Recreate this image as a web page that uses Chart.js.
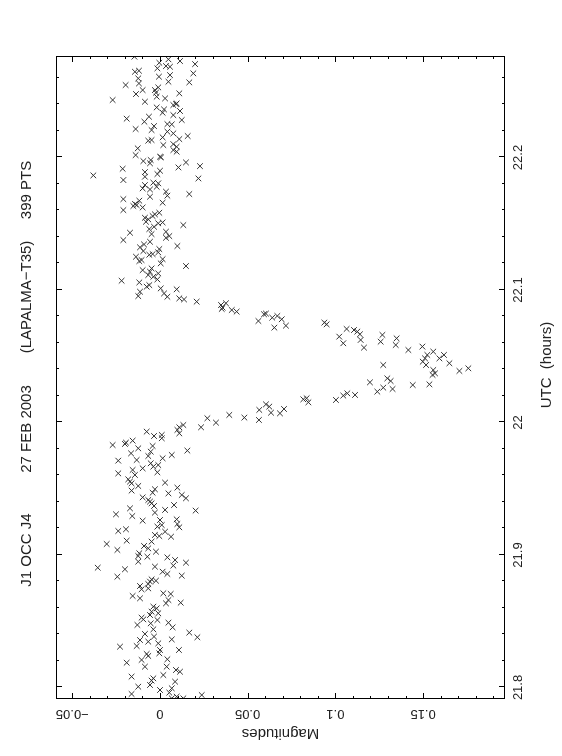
<!DOCTYPE html>
<html>
<head>
<meta charset="utf-8">
<script src="https://cdn.jsdelivr.net/npm/chart.js@4.4.1/dist/chart.umd.min.js"></script>
<style>
html,body{margin:0;padding:0;background:#fff;overflow:hidden;width:562px;height:756px}
#wrap{position:absolute;left:0;top:0;width:756px;height:562px;transform-origin:0 0;transform:translateY(756px) rotate(-90deg)}
</style>
</head>
<body>
<div id="wrap"><canvas id="lc" width="756" height="562"></canvas></div>
<script>
// light curve J1 occults J4 (UTC hours, magnitudes)
// after the event
const utcAfter = [22.2761,22.2741,22.2728,22.2715,22.2705,22.2690,22.2685,22.2673,22.2647,22.2655,
  22.2635,22.2622,22.2610,22.2597,22.2572,22.2567,22.2559,22.2547,22.2529,22.2509,
  22.2509,22.2489,22.2479,22.2484,22.2459,22.2446,22.2434,22.2421,22.2408,22.2396,
  22.2403,22.2378,22.2363,22.2351,22.2338,22.2320,22.2308,22.2293,22.2283,22.2270,
  22.2252,22.2250,22.2237,22.2215,22.2207,22.2195,22.2182,22.2162,22.2152,22.2139,
  22.2132,22.2127,22.2101,22.2094,22.2081,22.2069,22.2056,22.2044,22.2018,22.2006,
  22.2001,22.1973,22.1981,22.1963,22.1956,22.1935,22.1925,22.1915,22.1900,22.1890,
  22.1875,22.1865,22.1855,22.1842,22.1830,22.1810,22.1805,22.1792,22.1779,22.1767,
  22.1759,22.1742,22.1724,22.1712,22.1704,22.1686,22.1674,22.1659,22.1649,22.1641,
  22.1634,22.1623,22.1603,22.1583,22.1571,22.1558,22.1545,22.1533,22.1515,22.1503,
  22.1510,22.1490,22.1477,22.1460,22.1440,22.1432,22.1422,22.1407,22.1394,22.1377,
  22.1364,22.1344,22.1332,22.1322,22.1309,22.1294,22.1284,22.1271,22.1266,22.1251,
  22.1233,22.1226,22.1218,22.1201,22.1181,22.1163,22.1150,22.1138,22.1125,22.1113,
  22.1100,22.1080,22.1070,22.1057,22.1037,22.1025,22.1012,22.1005,22.0987,22.0974,
  22.0954,22.0949,22.0937,22.0929]
const magAfter = [-0.0146,0.0048,0.0114,-0.0004,0.0200,0.0034,0.0057,-0.0015,-0.0143,-0.0120,
  0.0190,0.0057,-0.0006,-0.0124,0.0048,0.0167,-0.0120,-0.0196,-0.0010,-0.0099,
  -0.0029,-0.0023,-0.0137,0.0110,-0.0019,0.0029,-0.0270,-0.0086,0.0095,0.0076,
  0.0091,-0.0019,0.0023,0.0114,0.0015,0.0076,-0.0063,-0.0190,0.0124,-0.0089,
  0.0042,0.0067,-0.0034,-0.0139,-0.0048,0.0042,0.0076,0.0158,0.0015,0.0110,
  -0.0048,-0.0067,0.0076,0.0019,0.0095,-0.0127,0.0076,0.0095,-0.0139,0.0000,
  0.0006,-0.0095,-0.0053,0.0148,-0.0057,0.0228,0.0105,-0.0213,0.0000,-0.0086,
  -0.0015,-0.0380,-0.0086,0.0219,-0.0209,-0.0038,-0.0010,-0.0086,-0.0019,-0.0099,
  -0.0057,0.0034,0.0167,0.0042,-0.0057,-0.0209,-0.0118,0.0015,-0.0143,-0.0133,
  -0.0152,-0.0099,-0.0209,-0.0004,-0.0029,-0.0042,-0.0086,-0.0067,-0.0080,-0.0010,
  0.0015,0.0133,-0.0034,-0.0061,0.0034,-0.0171,-0.0048,0.0053,0.0034,-0.0209,
  -0.0057,-0.0091,0.0099,-0.0114,-0.0004,-0.0095,-0.0010,-0.0042,-0.0061,-0.0137,
  0.0015,-0.0105,-0.0118,0.0004,0.0148,-0.0048,-0.0099,-0.0057,-0.0010,-0.0067,
  -0.0038,-0.0015,-0.0219,-0.0118,-0.0061,-0.0076,0.0004,0.0095,-0.0114,0.0023,
  -0.0124,0.0042,0.0110,0.0137]
// the dip
const utcDip = [22.0912,22.0887,22.0867,22.0900,22.0857,22.0849,22.0837,22.0766,22.0817,22.0822,
  22.0791,22.0804,22.0779,22.0716,22.0731,22.0754,22.0741,22.0648,22.0598,22.0706,
  22.0698,22.0686,22.0666,22.0623,22.0565,22.0661,22.0610,22.0635,22.0585,22.0547,
  22.0573,22.0535,22.0510,22.0484,22.0459,22.0510,22.0484,22.0447,22.0389,22.0409,
  22.0434,22.0396,22.0371,22.0359,22.0288,22.0434,22.0333,22.0313,22.0303,22.0263,
  22.0253,22.0283,22.0233,22.0208,22.0220,22.0203,22.0170,22.0183,22.0152,22.0175,
  22.0102,22.0069,22.0074,22.0120,22.0137,22.0095,22.0019,22.0037,22.0057,22.0032]
const magDip = [0.0209,0.0348,0.0357,0.0376,0.0352,0.0409,0.0437,0.0561,0.0593,0.0604,
  0.0640,0.0669,0.0694,0.0652,0.0718,0.0937,0.0950,0.1022,0.1045,0.1064,
  0.1106,0.1125,0.1140,0.1144,0.1163,0.1268,0.1258,0.1349,0.1344,0.1416,
  0.1496,0.1558,0.1524,0.1511,0.1498,0.1619,0.1593,0.1650,0.1707,0.1758,
  0.1517,0.1558,0.1568,0.1554,0.1536,0.1273,0.1296,0.1315,0.1197,0.1273,
  0.1326,0.1441,0.1239,0.1112,0.1068,0.1045,0.1003,0.0836,0.0846,0.0817,
  0.0707,0.0684,0.0633,0.0623,0.0604,0.0566,0.0564,0.0481,0.0395,0.0270]
// before the event
const utcBefore = [21.9999,21.9981,21.9964,21.9944,21.9964,21.9918,21.9931,21.9898,21.9906,21.9881,
  21.9863,21.9848,21.9838,21.9830,21.9823,21.9805,21.9780,21.9788,21.9767,21.9747,
  21.9755,21.9730,21.9712,21.9717,21.9692,21.9679,21.9667,21.9654,21.9642,21.9624,
  21.9616,21.9604,21.9571,21.9554,21.9541,21.9546,21.9521,21.9508,21.9496,21.9486,
  21.9470,21.9465,21.9453,21.9428,21.9435,21.9415,21.9403,21.9390,21.9370,21.9377,
  21.9340,21.9352,21.9335,21.9320,21.9307,21.9294,21.9259,21.9264,21.9269,21.9226,
  21.9234,21.9209,21.9214,21.9181,21.9194,21.9176,21.9151,21.9143,21.9138,21.9108,
  21.9101,21.9083,21.9068,21.9050,21.9038,21.9025,21.9013,21.8992,21.8982,21.8987,
  21.8962,21.8950,21.8942,21.8920,21.8912,21.8904,21.8892,21.8874,21.8857,21.8844,
  21.8836,21.8816,21.8806,21.8799,21.8781,21.8766,21.8741,21.8748,21.8691,21.8673,
  21.8711,21.8706,21.8660,21.8640,21.8635,21.8610,21.8597,21.8572,21.8560,21.8547,
  21.8527,21.8514,21.8484,21.8509,21.8489,21.8472,21.8454,21.8439,21.8414,21.8404,
  21.8379,21.8384,21.8363,21.8358,21.8346,21.8333,21.8308,21.8313,21.8283,21.8258,
  21.8283,21.8253,21.8238,21.8208,21.8213,21.8187,21.8157,21.8157,21.8132,21.8119,
  21.8094,21.8082,21.8069,21.8052,21.8044,21.8019,21.8006,21.7994,21.7981,21.7951,
  21.7961,21.7943,21.7918,21.7931,21.7918]
const magBefore = [0.0319,0.0133,0.0110,0.0099,0.0234,0.0110,-0.0076,-0.0034,0.0010,0.0010,
  -0.0156,-0.0194,-0.0200,-0.0270,-0.0042,-0.0124,-0.0053,0.0156,-0.0165,-0.0067,
  0.0067,0.0015,-0.0238,-0.0133,-0.0053,-0.0010,-0.0038,-0.0099,-0.0156,-0.0015,
  -0.0238,-0.0143,-0.0181,-0.0171,-0.0162,0.0029,-0.0124,0.0099,-0.0029,-0.0162,
  -0.0042,0.0048,0.0124,0.0148,-0.0099,-0.0067,-0.0057,-0.0048,-0.0034,0.0080,
  0.0029,-0.0171,0.0203,-0.0029,-0.0251,-0.0158,-0.0099,0.0000,0.0095,0.0010,
  0.0099,0.0110,-0.0015,-0.0238,-0.0194,0.0029,-0.0029,-0.0004,0.0063,-0.0190,
  -0.0048,-0.0304,-0.0091,-0.0067,-0.0243,-0.0023,-0.0118,-0.0124,0.0042,-0.0072,
  0.0086,-0.0124,0.0148,0.0076,-0.0029,-0.0355,-0.0200,0.0015,0.0042,0.0124,
  -0.0243,-0.0048,-0.0023,-0.0057,-0.0067,-0.0114,-0.0105,-0.0067,-0.0156,-0.0114,
  0.0019,0.0061,0.0048,0.0118,0.0034,-0.0038,-0.0019,-0.0048,-0.0010,-0.0057,
  -0.0105,-0.0095,-0.0053,-0.0015,0.0048,-0.0129,0.0072,-0.0038,0.0167,-0.0086,
  0.0213,-0.0034,0.0067,-0.0114,-0.0067,-0.0010,-0.0228,-0.0133,0.0000,-0.0004,
  0.0108,-0.0076,-0.0067,-0.0105,0.0042,-0.0190,-0.0086,0.0038,0.0091,0.0114,
  0.0019,-0.0162,-0.0038,-0.0048,0.0086,-0.0057,-0.0124,0.0067,0.0000,-0.0162,
  0.0053,0.0238,0.0067,0.0095,0.0133]

const utcTicks = [21.8, 21.9, 22.0, 22.1, 22.2]
const utcTickLabels = ['21.8', '21.9', '22', '22.1', '22.2']
const magTicks = [-0.05, 0, 0.05, 0.1, 0.15]
const magTickLabels = ['\u22120.05', '0', '0.05', '0.1', '0.15']
const titleParts = ['J1 OCC J4', '27 FEB 2003', '(LAPALMA\u2212T35)', '399 PTS']

const utc = utcAfter.concat(utcDip, utcBefore)
const mag = magAfter.concat(magDip, magBefore)

// pgplot style box: frame, ticks inside on all four sides, labels drawn by hand
const pgBox = {
  id: 'pgBox',
  afterDraw(chart) {
    const {ctx, chartArea: a, scales: {x, y}} = chart
    ctx.save()
    ctx.strokeStyle = '#000'
    ctx.lineWidth = 1
    ctx.strokeRect(a.left + 0.5, a.top + 0.5, a.right - a.left - 1, a.bottom - a.top - 1)

    ctx.beginPath()
    for (let k = 1090; k <= 1113; k++) {
      const px = Math.round(x.getPixelForValue(k * 0.02)) + 0.5
      const len = k % 5 === 0 ? 6 : 3
      ctx.moveTo(px, a.bottom); ctx.lineTo(px, a.bottom - len)
      ctx.moveTo(px, a.top); ctx.lineTo(px, a.top + len)
    }
    for (let k = -5; k <= 19; k++) {
      const py = Math.round(y.getPixelForValue(k * 0.01)) + 0.5
      const len = k % 5 === 0 ? 6 : 3
      ctx.moveTo(a.left, py); ctx.lineTo(a.left + len, py)
      ctx.moveTo(a.right, py); ctx.lineTo(a.right - len, py)
    }
    ctx.stroke()

    ctx.fillStyle = '#222'
    ctx.textAlign = 'center'
    ctx.textBaseline = 'middle'
    ctx.font = '13px "Liberation Sans", Arial, sans-serif'
    utcTicks.forEach((v, i) => {
      ctx.fillText(utcTickLabels[i], x.getPixelForValue(v), a.bottom + 13)
    })
    magTicks.forEach((v, i) => {
      ctx.save()
      ctx.translate(a.left - 15, y.getPixelForValue(v))
      ctx.rotate(-Math.PI / 2)
      ctx.fillText(magTickLabels[i], 0, 0)
      ctx.restore()
    })

    ctx.font = '15px "Liberation Sans", Arial, sans-serif'
    ctx.fillText('UTC  (hours)', 391, a.bottom + 42)
    ctx.save()
    ctx.translate(23, (a.top + a.bottom) / 2)
    ctx.rotate(-Math.PI / 2)
    ctx.fillText('Magnitudes', 0, 0)
    ctx.restore()

    const titleX = [206, 327, 459, 566]
    titleParts.forEach((t, i) => ctx.fillText(t, titleX[i], 27))
    ctx.restore()
  }
}

new Chart(document.getElementById('lc'), {
  type: 'scatter',
  data: {
    datasets: [{
      data: utc.map((t, i) => ({x: t, y: mag[i]})),
      pointStyle: 'crossRot',
      radius: 4,
      hoverRadius: 4,
      borderColor: '#333',
      backgroundColor: '#333',
      borderWidth: 1
    }]
  },
  options: {
    responsive: false,
    animation: false,
    events: [],
    layout: {padding: {left: 57, right: 56, top: 56, bottom: 57}},
    plugins: {legend: {display: false}, tooltip: {enabled: false}},
    scales: {
      x: {type: 'linear', min: 21.7913, max: 22.2766, display: false},
      y: {type: 'linear', min: -0.0593, max: 0.1967, reverse: true, display: false}
    }
  },
  plugins: [pgBox]
})
</script>
</body>
</html>
